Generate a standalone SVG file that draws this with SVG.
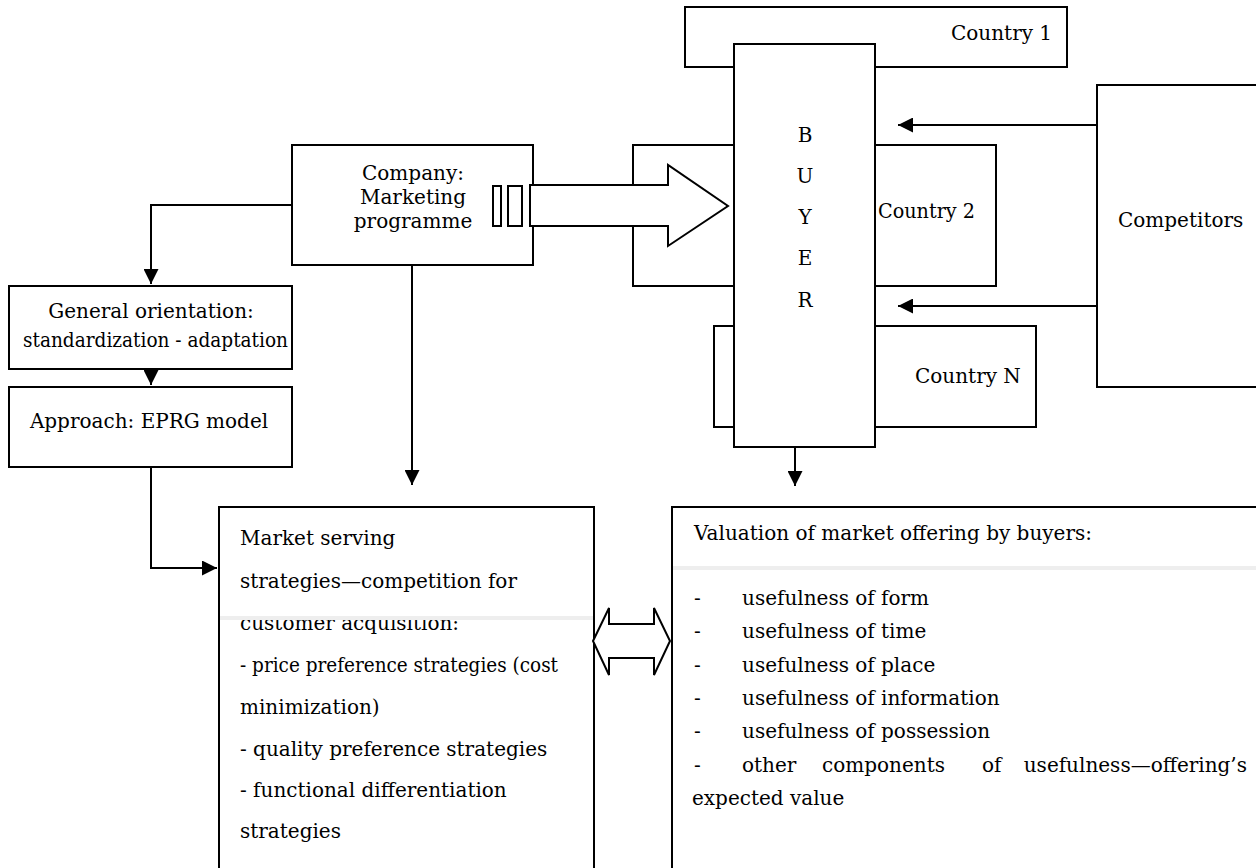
<svg xmlns="http://www.w3.org/2000/svg" width="1256" height="868" viewBox="0 0 1256 868">
<style>
.box{fill:#fff;stroke:#000;stroke-width:2}
.ln{fill:none;stroke:#000;stroke-width:2}
text{font-family:'DejaVu Serif',serif;font-size:20px;fill:#000}
.c{text-anchor:middle}
.e{text-anchor:end}
</style>
<defs>
<marker id="ah" viewBox="0 0 10 10" refX="10" refY="5" markerWidth="7.5" markerHeight="7.5" markerUnits="strokeWidth" orient="auto">
<path d="M0,0 L10,5 L0,10 Z" fill="#000"/>
</marker>
</defs>
<rect width="1256" height="868" fill="#fff"/>

<g id="country1"><rect class="box" x="685" y="7" width="382" height="60"/><text x="951" y="40">Country 1</text></g>
<g id="country2"><rect class="box" x="633" y="145" width="363" height="141"/><text x="878" y="218" textLength="97" lengthAdjust="spacingAndGlyphs">Country 2</text></g>
<g id="countryN"><rect class="box" x="714" y="326" width="322" height="101"/><text x="915" y="383">Country N</text></g>
<g id="buyer"><rect class="box" x="734" y="44" width="141" height="403"/>
<text class="c" x="805" y="142">B</text><text class="c" x="805" y="183">U</text><text class="c" x="805" y="224">Y</text><text class="c" x="805" y="265">E</text><text class="c" x="805" y="307">R</text></g>
<g id="competitors"><rect class="box" x="1097" y="85" width="170" height="302"/><text x="1118" y="227">Competitors</text></g>

<g id="company"><rect class="box" x="292" y="145" width="241" height="120"/>
<text class="c" x="413" y="180">Company:</text><text class="c" x="413" y="204">Marketing</text><text class="c" x="413" y="228">programme</text></g>

<g id="general"><rect class="box" x="9" y="286" width="283" height="83"/>
<text class="c" x="151" y="318">General orientation:</text><text x="23" y="347" textLength="265" lengthAdjust="spacingAndGlyphs">standardization - adaptation</text></g>
<g id="approach"><rect class="box" x="9" y="387" width="283" height="80"/>
<text class="c" x="149" y="428">Approach: EPRG model</text></g>

<g id="market"><rect class="box" x="219" y="507" width="375" height="380"/>
<text x="240" y="545">Market serving</text>
<text x="240" y="588">strategies—competition for</text>
<text x="240" y="630">customer acquisition:</text>
<rect x="220" y="596" width="373" height="21" fill="#fff"/>
<rect x="220" y="616" width="373" height="4" fill="#eeeeee"/>
<text x="240" y="672" textLength="318" lengthAdjust="spacingAndGlyphs">- price preference strategies (cost</text>
<text x="240" y="714">minimization)</text>
<text x="240" y="756">- quality preference strategies</text>
<text x="240" y="797">- functional differentiation</text>
<text x="240" y="838">strategies</text></g>

<g id="valuation"><rect class="box" x="672" y="507" width="600" height="380"/>
<text x="694" y="540">Valuation of market offering by buyers:</text>
<rect x="673" y="566" width="583" height="4" fill="#eeeeee"/>
<text x="694" y="605">-</text><text x="742" y="605">usefulness of form</text>
<text x="694" y="638">-</text><text x="742" y="638">usefulness of time</text>
<text x="694" y="672">-</text><text x="742" y="672">usefulness of place</text>
<text x="694" y="705">-</text><text x="742" y="705">usefulness of information</text>
<text x="694" y="738">-</text><text x="742" y="738">usefulness of possession</text>
<text x="694" y="772">-</text><text x="742" y="772">other</text><text x="822" y="772">components</text><text x="982" y="772">of</text><text class="e" x="1247" y="772">usefulness—offering’s</text>
<text x="692" y="805">expected value</text></g>

<g id="connectors">
<polyline class="ln" points="292,205 151,205 151,284" marker-end="url(#ah)"/>
<line class="ln" x1="151" y1="369" x2="151" y2="385" marker-end="url(#ah)"/>
<polyline class="ln" points="151,467 151,568 217,568" marker-end="url(#ah)"/>
<line class="ln" x1="412" y1="265" x2="412" y2="485" marker-end="url(#ah)"/>
<line class="ln" x1="795" y1="447" x2="795" y2="486" marker-end="url(#ah)"/>
<line class="ln" x1="1097" y1="125" x2="898" y2="125" marker-end="url(#ah)"/>
<line class="ln" x1="1097" y1="306" x2="898" y2="306" marker-end="url(#ah)"/>
<polygon class="box" points="530,185 668,185 668,165 728,206 668,246 668,226 530,226"/>
<rect class="box" x="493" y="186" width="8" height="40"/>
<rect class="box" x="508" y="186" width="14" height="40"/>
<polygon class="box" points="593,641 609,608 609,624 654,624 654,608 670,641 654,675 654,658 609,658 609,675"/>
</g>
</svg>
